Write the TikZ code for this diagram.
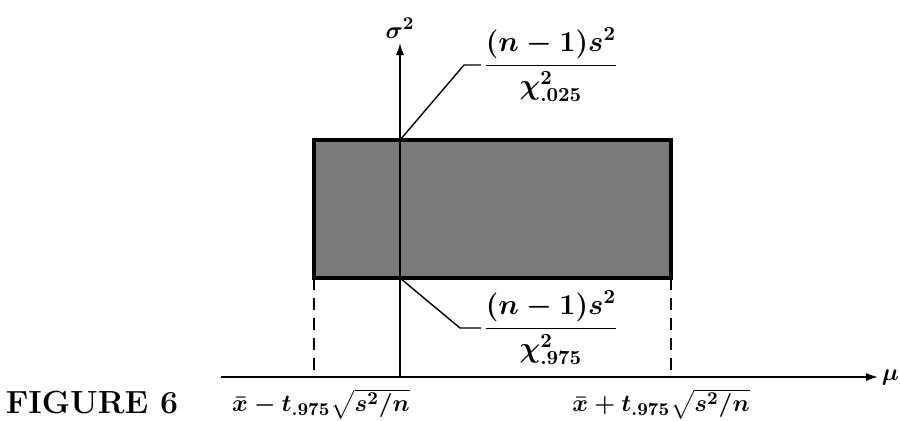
\documentclass[tikz,border=0pt]{standalone}
\usepackage{amsmath}
\usetikzlibrary{arrows.meta}
\begin{document}
\begin{tikzpicture}[x=0.5pt, y=-0.5pt,
  every node/.style={font=\fontsize{13}{15}\selectfont\boldmath, inner sep=1pt},
  frac/.style={font=\fontsize{13.8}{16}\selectfont\boldmath, anchor=west},
  axis/.style={line width=0.8pt, -{Latex[length=6pt,width=4pt]}},
  leader/.style={line width=0.7pt},
  bound/.style={line width=0.7pt, dash pattern=on 6pt off 4pt},
  region/.style={fill=black!52, draw=black, line width=1.6pt}
]
\useasboundingbox (0,0) rectangle (900,420);
% axes
\coordinate (o) at (400,377);
\coordinate (xstart) at (221,377);
\coordinate (xend) at (878,377);
\coordinate (yend) at (400,43);
% confidence region
\coordinate (lo) at (314,278);
\coordinate (hi) at (671,140);
\draw[region] (lo) rectangle (hi);
\draw[bound] (lo) -- (lo |- o);
\draw[bound] (hi |- lo) -- (hi |- o);
\draw[axis] (xstart) -- (xend) node[anchor=west, inner sep=1.5pt] (mu) {$\mu$};
\draw[axis] (o) -- (yend) node[above, inner sep=2pt] (sig) {$\sigma^2$};
% bound labels
\node[frac] (upper) at (481,65) {$\dfrac{(n-1)s^2}{\chi^2_{.025}}$};
\node[frac] (lower) at (481,328) {$\dfrac{(n-1)s^2}{\chi^2_{.975}}$};
\coordinate (ptop) at (o |- hi);
\coordinate (pbot) at (o |- lo);
\draw[leader] (ptop) -- (464,65) -- (upper.west);
\draw[leader] (pbot) -- (460,328) -- (lower.west);
\fill (ptop) circle (2.5);
\fill (pbot) circle (2.5);
% axis labels
\node (left) at (321,404) {$\bar{x}-t_{.975}\sqrt{s^2/n}$};
\node (right) at (661,404) {$\bar{x}+t_{.975}\sqrt{s^2/n}$};
\node[font=\fontsize{16}{19}\selectfont\bfseries] (cap) at (92,403) {FIGURE 6};
\end{tikzpicture}
\end{document}
